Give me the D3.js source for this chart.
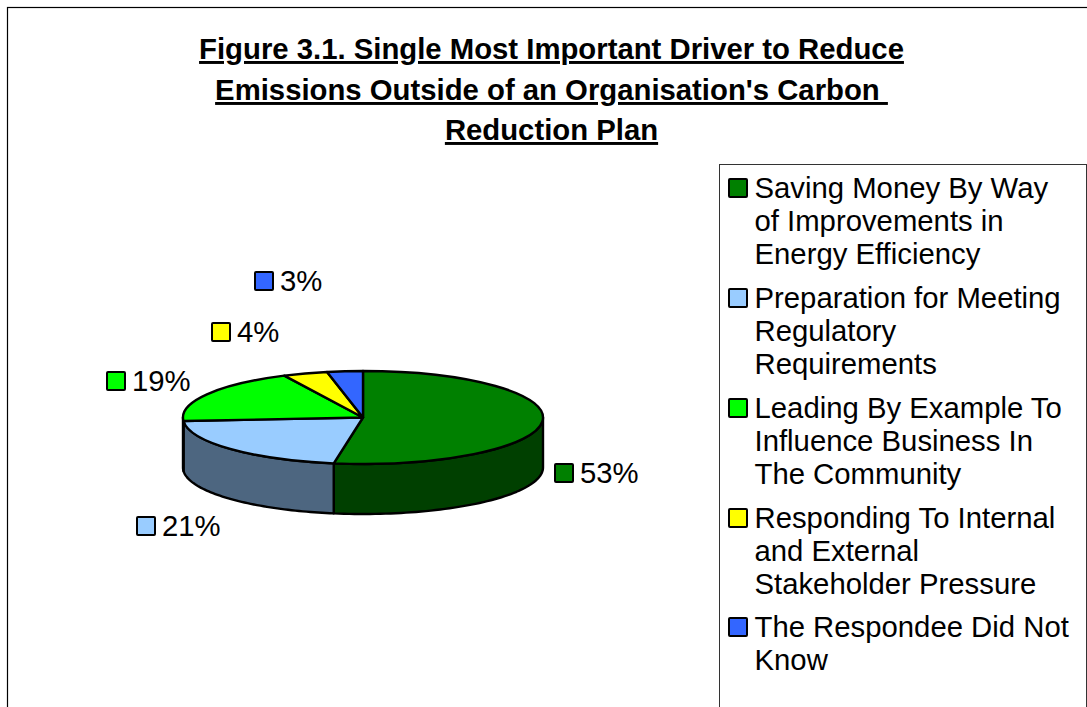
<!DOCTYPE html>
<html><head><meta charset="utf-8">
<script src="https://cdnjs.cloudflare.com/ajax/libs/d3/7.8.5/d3.min.js"></script>
<style>
html,body{margin:0;padding:0;background:#fff;overflow:hidden}
svg{display:block}
text{font-family:"Liberation Sans",Arial,sans-serif;fill:#000;white-space:pre}
</style></head><body>
<svg id="c" width="1087" height="707"></svg>
<script>
const categories = ["Saving Money By Way of Improvements in Energy Efficiency","Preparation for Meeting Regulatory Requirements","Leading By Example To Influence Business In The Community","Responding To Internal and External Stakeholder Pressure","The Respondee Did Not Know"];
const values = [52.6, 21.2, 19.0, 4.0, 3.2];
const titleLines = ["Figure 3.1. Single Most Important Driver to Reduce","Emissions Outside of an Organisation's Carbon ","Reduction Plan"];
const legendLines = [["Saving Money By Way","of Improvements in","Energy Efficiency"],["Preparation for Meeting","Regulatory","Requirements"],["Leading By Example To","Influence Business In","The Community"],["Responding To Internal","and External","Stakeholder Pressure"],["The Respondee Did Not","Know"]];
const colors = ["#008000","#99CCFF","#00FF00","#FFFF00","#3366FF"];

// layout
const W=1087,H=707, cx=363, cy=417.5, rx=180, ry=46.5, depth=50;
const labelAnchors=[[554,463],[136,516],[106,371],[211,322],[254,271]];
const legendTops=[178,288,398,508,617];
const svg=d3.select("#c");

svg.append("rect").attr("x",7.5).attr("y",7.5).attr("width",W).attr("height",H).attr("fill","#fff").attr("stroke","#000").attr("stroke-width",1.2);

svg.selectAll("text.title").data(titleLines).join("text").attr("class","title")
  .attr("x",551.5).attr("y",(d,i)=>[59,100,140][i]).attr("text-anchor","middle")
  .attr("font-size",29.3).attr("font-weight","bold").attr("text-decoration","underline").text(d=>d);

const pie=d3.pie().sort(null)(values);
const P=a=>[cx+rx*Math.sin(a),cy-ry*Math.cos(a)];
const darker=c=>{const r=d3.rgb(c);return d3.rgb(r.r/2,r.g/2,r.b/2).formatHex();};

// side walls (visible front half only)
const front=pie.map((d,i)=>({i,a0:Math.max(d.startAngle,Math.PI/2),a1:Math.min(d.endAngle,3*Math.PI/2)})).filter(d=>d.a1>d.a0);
svg.append("g").selectAll("path").data(front).join("path")
  .attr("d",d=>{
    const p=d3.path(),N=60,pts=d3.range(N+1).map(k=>P(d.a0+(d.a1-d.a0)*k/N));
    p.moveTo(pts[0][0],pts[0][1]);
    pts.forEach(q=>p.lineTo(q[0],q[1]));
    pts.slice().reverse().forEach(q=>p.lineTo(q[0],q[1]+depth));
    p.closePath();return p.toString();})
  .attr("fill",d=>darker(colors[d.i])).attr("stroke","#000").attr("stroke-width",2.4).attr("stroke-linejoin","round");

// top face
const arc=d3.arc().innerRadius(0).outerRadius(rx);
svg.append("g").attr("transform",`translate(${cx},${cy}) scale(1,${ry/rx})`)
  .selectAll("path").data(pie).join("path")
  .attr("d",arc).attr("fill",(d,i)=>colors[i]).attr("stroke","#000").attr("stroke-width",2.4)
  .attr("stroke-linejoin","round").attr("vector-effect","non-scaling-stroke");

// data labels
const fmt=v=>Math.round(v)+"%";
const lab=svg.append("g").selectAll("g").data(values).join("g").attr("transform",(d,i)=>`translate(${labelAnchors[i]})`);
lab.append("rect").attr("x",1).attr("y",1).attr("width",18).attr("height",18).attr("rx",1)
  .attr("fill",(d,i)=>colors[i]).attr("stroke","#000").attr("stroke-width",2);
lab.append("text").attr("x",26).attr("y",20).attr("font-size",29.3).text(fmt);

// legend
svg.append("rect").attr("x",719.5).attr("y",164.5).attr("width",367).attr("height",600).attr("fill","#fff").attr("stroke","#333").attr("stroke-width",1);
const leg=svg.append("g").selectAll("g").data(categories).join("g").attr("transform",(d,i)=>`translate(0,${legendTops[i]})`);
leg.append("rect").attr("x",729).attr("y",1).attr("width",18).attr("height",18).attr("rx",1)
  .attr("fill",(d,i)=>colors[i]).attr("stroke","#000").attr("stroke-width",2);
leg.each(function(d,i){
  d3.select(this).selectAll("text").data(legendLines[i]).join("text")
    .attr("x",754.5).attr("y",(t,j)=>20+j*33).attr("font-size",29.3).text(t=>t);
});
</script></body></html>
